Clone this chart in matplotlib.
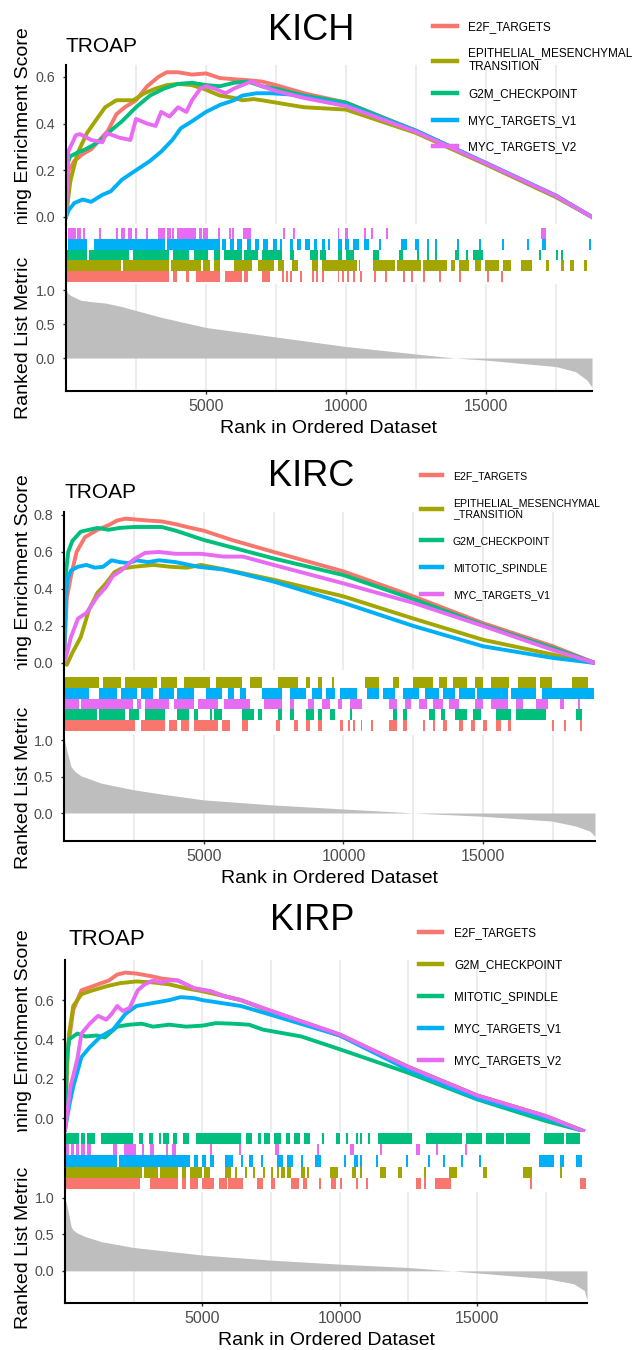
import matplotlib.pyplot as plt
from matplotlib.transforms import Bbox, TransformedBbox

plt.rcParams['font.family'] = ['Liberation Sans', 'DejaVu Sans']

# ggplot default hue palette for five groups
HUE = ["#F8766D", "#A3A500", "#00BF7D", "#00B0F6", "#E76BF3"]

# ---------------- KICH ----------------
kich_sets = ["E2F_TARGETS", "EPITHELIAL_MESENCHYMAL\nTRANSITION", "G2M_CHECKPOINT",
             "MYC_TARGETS_V1", "MYC_TARGETS_V2"]
kich_n = 18790
kich_rows = [0, 1, 2, 3, 4]

kich_e2f_es = [(0, 0), (100, 0.2), (300, 0.24), (600, 0.27), (900, 0.29), (1200, 0.33), (1500, 0.37),
               (1800, 0.44), (2100, 0.47), (2500, 0.5), (2900, 0.56), (3300, 0.6), (3600, 0.62),
               (4000, 0.62), (4500, 0.61), (5000, 0.615), (5500, 0.595), (6000, 0.59), (6600, 0.585),
               (7000, 0.58), (7500, 0.565), (8500, 0.53), (10000, 0.49), (12500, 0.37), (15000, 0.23),
               (17500, 0.09), (18790, 0)]
kich_emt_es = [(0, 0), (150, 0.15), (400, 0.27), (750, 0.36), (1100, 0.42), (1400, 0.47), (1800, 0.5),
               (2400, 0.5), (2800, 0.53), (3200, 0.55), (3600, 0.565), (4000, 0.57), (4500, 0.565),
               (5000, 0.545), (5500, 0.52), (6000, 0.51), (6300, 0.5), (6700, 0.505), (7000, 0.5),
               (7500, 0.49), (8500, 0.47), (10000, 0.46), (12500, 0.36), (15000, 0.225), (17500, 0.085),
               (18790, 0)]
kich_g2m_es = [(0, 0), (30, 0.22), (150, 0.26), (400, 0.275), (700, 0.29), (1000, 0.31), (1300, 0.335),
               (1600, 0.37), (2000, 0.41), (2500, 0.47), (3000, 0.52), (3500, 0.55), (4000, 0.57),
               (4500, 0.575), (5000, 0.565), (5500, 0.56), (6000, 0.575), (6500, 0.58), (7000, 0.56),
               (7500, 0.55), (8500, 0.52), (10000, 0.49), (12500, 0.368), (15000, 0.23), (17500, 0.09),
               (18790, 0)]
kich_mycv1_es = [(0, 0), (100, 0.03), (300, 0.06), (600, 0.075), (900, 0.065), (1100, 0.08), (1300, 0.095),
                 (1600, 0.11), (2000, 0.16), (2500, 0.2), (3000, 0.24), (3400, 0.28), (3800, 0.33),
                 (4100, 0.38), (4500, 0.41), (5000, 0.45), (5500, 0.48), (6000, 0.5), (6300, 0.52),
                 (6800, 0.53), (7300, 0.53), (8000, 0.525), (8500, 0.515), (10000, 0.48), (12500, 0.37),
                 (15000, 0.232), (17500, 0.092), (18790, 0)]
kich_mycv2_es = [(0, 0), (80, 0.28), (350, 0.35), (500, 0.355), (900, 0.33), (1300, 0.32), (1450, 0.36),
                 (1900, 0.34), (2300, 0.33), (2500, 0.42), (2900, 0.4), (3200, 0.39), (3400, 0.45),
                 (3700, 0.43), (4000, 0.47), (4300, 0.45), (4500, 0.5), (4800, 0.55), (5000, 0.56),
                 (5300, 0.55), (5700, 0.53), (6000, 0.55), (6400, 0.57), (6600, 0.58), (7000, 0.56),
                 (7500, 0.54), (8500, 0.51), (10000, 0.475), (12500, 0.365), (15000, 0.23), (17500, 0.09),
                 (18790, 0)]

kich_e2f_hits = [(30, 3690), (3840, 3980), (4270, 4410), (4630, 5490), (5680, 6280), (6350, 6500),
                 (7000, 7290), (7720, 7720), (7860, 7860), (8000, 8000), (8360, 8360), (8790, 8790),
                 (8940, 8940), (9150, 9150), (9700, 9760), (9850, 9900), (10050, 10100), (10250, 10300),
                 (10520, 10520), (11020, 11020), (11380, 11380), (12030, 12030), (12320, 12320),
                 (12750, 12750), (13320, 13320), (14040, 14040), (15050, 15050), (15550, 15550)]
kich_emt_hits = [(30, 1970), (2040, 3690), (3760, 4840), (4910, 5130), (5270, 5490), (5990, 6640),
                 (6850, 7430), (7570, 7790), (8080, 8290), (8790, 9010), (9150, 10380), (10450, 10450),
                 (10950, 11740), (11810, 12670), (12750, 13610), (13750, 13900), (14040, 14400),
                 (14610, 14830), (14970, 15480), (15620, 15910), (16270, 16630), (17130, 17270),
                 (17700, 17780), (17990, 18140), (18490, 18610)]
kich_g2m_hits = [(30, 750), (820, 2260), (2400, 3690), (3840, 4410), (4560, 5060), (5270, 5490),
                 (5630, 6280), (6350, 6850), (7000, 7720), (8000, 8150), (8720, 9010), (9080, 9300),
                 (9730, 9870), (10020, 10300), (10950, 11170), (11880, 12030), (12530, 12600),
                 (12890, 12890), (13180, 13180), (13900, 14050), (14300, 14350), (14550, 14900),
                 (16910, 16910), (17490, 17490), (17700, 17700)]
kich_mycv1_hits = [(70, 750), (990, 3550), (3620, 5490), (5560, 5700), (5850, 6000), (6100, 6300),
                   (6450, 6600), (6750, 6900), (7050, 7200), (7400, 7550), (7650, 7720), (8000, 8100),
                   (8250, 8400), (8550, 8700), (8850, 8950), (9150, 9250), (9350, 9440), (9730, 9850),
                   (9950, 10100), (10250, 10450), (10660, 10810), (11170, 11240), (11960, 12170),
                   (12460, 12600), (12890, 12890), (13180, 13250), (13970, 14040), (14760, 14830),
                   (15590, 15590), (16480, 16550), (16990, 17130), (18670, 18670)]
kich_mycv2_hits = [(70, 70), (130, 130), (220, 220), (290, 290), (390, 390), (460, 460), (600, 600),
                   (1180, 1180), (1780, 1780), (1970, 2110), (2230, 2230), (2290, 2290), (2470, 2470),
                   (2860, 2860), (3290, 3520), (3620, 3620), (3690, 3690), (3790, 3790), (3980, 4630),
                   (4740, 4740), (4800, 4800), (4910, 5060), (5420, 5420), (5820, 5820), (5920, 5920),
                   (6320, 6600), (7760, 7760), (8100, 8100), (9700, 9700), (9960, 9960), (10020, 10020),
                   (10630, 10630), (10890, 10890), (11420, 11420), (16980, 17130)]

kich_metric = [(0, 1.02), (60, 0.96), (170, 0.92), (530, 0.85), (900, 0.83), (1400, 0.81), (1970, 0.76),
               (2500, 0.70), (3400, 0.6), (5000, 0.45), (7500, 0.31), (10000, 0.17), (12500, 0.06),
               (13900, 0.0), (15000, -0.03), (16300, -0.08), (17500, -0.125), (18200, -0.2),
               (18600, -0.32), (18790, -0.43)]

# ---------------- KIRC ----------------
kirc_sets = ["E2F_TARGETS", "EPITHELIAL_MESENCHYMAL\n_TRANSITION", "G2M_CHECKPOINT",
             "MITOTIC_SPINDLE", "MYC_TARGETS_V1"]
kirc_n = 19000
kirc_rows = [0, 4, 1, 3, 2]

kirc_e2f_es = [(0, 0), (100, 0.35), (250, 0.47), (450, 0.6), (750, 0.68), (1200, 0.72), (1600, 0.745),
               (1900, 0.77), (2200, 0.78), (2600, 0.775), (3000, 0.77), (3500, 0.765), (4000, 0.75),
               (4400, 0.735), (5000, 0.715), (6000, 0.665), (7500, 0.6), (10000, 0.495), (12500, 0.36),
               (15000, 0.215), (17500, 0.09), (19000, 0)]
kirc_emt_es = [(0, 0), (100, -0.01), (300, 0.055), (600, 0.14), (900, 0.29), (1200, 0.38), (1500, 0.43),
               (1800, 0.49), (2050, 0.51), (2500, 0.52), (3200, 0.53), (3800, 0.52), (4400, 0.515),
               (4900, 0.53), (5600, 0.51), (6400, 0.485), (7500, 0.45), (10000, 0.36), (12500, 0.24),
               (15000, 0.125), (17500, 0.045), (19000, 0)]
kirc_g2m_es = [(0, 0), (20, 0.38), (80, 0.5), (150, 0.6), (300, 0.66), (600, 0.71), (900, 0.72),
               (1200, 0.73), (1600, 0.72), (2000, 0.73), (2500, 0.735), (3000, 0.735), (3500, 0.735),
               (4000, 0.715), (4500, 0.69), (5000, 0.665), (6000, 0.625), (7500, 0.565), (10000, 0.475),
               (12500, 0.345), (15000, 0.205), (17500, 0.08), (19000, 0)]
kirc_mitotic_es = [(0, 0), (60, 0.35), (120, 0.45), (250, 0.5), (500, 0.52), (800, 0.53), (1100, 0.515),
                   (1400, 0.52), (1700, 0.555), (2000, 0.545), (2300, 0.54), (2600, 0.555), (3000, 0.545),
                   (3400, 0.555), (4000, 0.545), (4800, 0.52), (5700, 0.505), (6300, 0.485), (7500, 0.44),
                   (10000, 0.325), (12500, 0.2), (15000, 0.09), (17500, 0.027), (19000, 0)]
kirc_mycv1_es = [(0, 0), (100, 0.05), (250, 0.14), (500, 0.24), (800, 0.27), (1200, 0.36), (1500, 0.41),
                 (1750, 0.47), (2050, 0.5), (2500, 0.56), (2900, 0.595), (3400, 0.6), (4000, 0.59),
                 (4900, 0.59), (5700, 0.575), (6400, 0.575), (7500, 0.53), (10000, 0.43), (12500, 0.325),
                 (15000, 0.2), (17500, 0.07), (19000, 0)]

kirc_e2f_hits = [(30, 2550), (2760, 3630), (3770, 4060), (4200, 4490), (4640, 5500), (5640, 5930),
                 (6360, 6580), (7590, 7730), (8240, 8380), (8670, 8810), (9100, 9240), (9890, 9990),
                 (10150, 10250), (10350, 10400), (10610, 10610), (10970, 10970), (11620, 11910),
                 (12120, 12270), (12840, 12840), (13200, 13200), (13560, 13710), (14140, 14280),
                 (14570, 14720), (15000, 15150), (15440, 15650), (15870, 16010), (17450, 17450),
                 (17880, 17880), (18460, 18530)]
kirc_emt_hits = [(30, 1250), (1400, 2040), (2190, 3340), (3480, 4060), (4280, 5210), (5430, 6360),
                 (6650, 7080), (7660, 8380), (8670, 8810), (9100, 9240), (9600, 9600), (10760, 11260),
                 (11760, 11980), (12480, 13200), (13420, 13710), (13920, 14430), (14720, 15000),
                 (15290, 15940), (16230, 16880), (17020, 17450), (18170, 18750)]
kirc_g2m_hits = [(30, 1180), (1250, 2190), (2330, 2690), (2910, 3630), (4060, 4490), (4640, 4780),
                 (5210, 5210), (5360, 5640), (6360, 6800), (6940, 7080), (7660, 7800), (8090, 8240),
                 (8670, 8960), (9100, 9240), (9530, 9680), (10250, 10250), (11760, 11910), (12120, 12270),
                 (13060, 13280), (13490, 13640), (14000, 14430), (14640, 14930), (15440, 16010),
                 (16160, 17240), (18320, 18530)]
kirc_mitotic_hits = [(30, 890), (1250, 1900), (2040, 2620), (2760, 3200), (3410, 3920), (4060, 4640),
                     (5070, 5640), (5860, 6080), (6290, 6510), (7080, 7800), (8090, 8670), (8880, 9240),
                     (9390, 9680), (9890, 10470), (10830, 11260), (11400, 11840), (12120, 12700),
                     (12920, 13420), (13560, 14000), (14140, 14720), (14790, 15870), (16010, 16880),
                     (17090, 18960)]
kirc_mycv1_hits = [(30, 530), (600, 2470), (2620, 2750), (2900, 3770), (3920, 4640), (4780, 5500),
                   (5720, 6650), (7160, 7800), (8090, 8240), (8740, 8960), (9240, 9530), (9820, 9960),
                   (10250, 10680), (11620, 11910), (12200, 12410), (12700, 12990), (13200, 13560),
                   (13780, 14140), (14720, 15000), (15290, 15870), (16160, 16440), (16880, 17310),
                   (17740, 17880), (18390, 18460)]

kirc_metric = [(0, 1.0), (30, 0.98), (100, 0.86), (175, 0.75), (245, 0.64), (390, 0.57), (605, 0.51),
               (1325, 0.41), (2475, 0.32), (3485, 0.26), (5000, 0.18), (7500, 0.11), (10000, 0.055),
               (12100, 0.01), (12500, 0.0), (15000, -0.045), (17450, -0.11), (18320, -0.18),
               (18820, -0.25), (19000, -0.32)]

# ---------------- KIRP ----------------
kirp_sets = ["E2F_TARGETS", "G2M_CHECKPOINT", "MITOTIC_SPINDLE", "MYC_TARGETS_V1", "MYC_TARGETS_V2"]
kirp_n = 19000
kirp_rows = [0, 1, 4, 2, 3]

kirp_e2f_es = [(0, -0.06), (100, 0.35), (300, 0.55), (600, 0.65), (1200, 0.68), (1600, 0.7), (1900, 0.73),
               (2200, 0.74), (2600, 0.735), (3200, 0.72), (3500, 0.71), (4100, 0.7), (4700, 0.66),
               (5300, 0.645), (5800, 0.62), (6400, 0.6), (7500, 0.545), (10000, 0.425), (12500, 0.26),
               (15000, 0.115), (17500, 0.01), (18850, -0.065)]
kirp_g2m_es = [(0, -0.06), (70, 0.26), (150, 0.43), (300, 0.57), (600, 0.63), (900, 0.645), (1500, 0.67),
               (2000, 0.686), (2600, 0.695), (3200, 0.69), (3800, 0.68), (4400, 0.66), (5000, 0.645),
               (5800, 0.62), (6400, 0.6), (7500, 0.54), (10000, 0.42), (12500, 0.26), (15000, 0.115),
               (17500, 0.01), (18850, -0.065)]
kirp_mitotic_es = [(0, -0.06), (60, 0.3), (150, 0.4), (450, 0.43), (750, 0.415), (1150, 0.42), (1450, 0.41),
                   (1900, 0.465), (2350, 0.475), (2800, 0.48), (3200, 0.465), (3800, 0.475), (4400, 0.465),
                   (5000, 0.47), (5500, 0.483), (6100, 0.48), (6700, 0.475), (7200, 0.45), (7600, 0.44),
                   (8600, 0.415), (10000, 0.35), (12500, 0.23), (15000, 0.095), (17500, -0.015),
                   (18850, -0.065)]
kirp_mycv1_es = [(0, -0.06), (150, 0.06), (300, 0.16), (600, 0.31), (900, 0.36), (1300, 0.415),
                 (1750, 0.45), (2200, 0.53), (2600, 0.57), (3200, 0.585), (3800, 0.6), (4200, 0.615),
                 (4700, 0.61), (5000, 0.6), (5700, 0.585), (6400, 0.57), (7500, 0.525), (10000, 0.42),
                 (12500, 0.245), (15000, 0.1), (17500, 0.0), (18850, -0.065)]
kirp_mycv2_es = [(0, -0.06), (200, 0.16), (450, 0.3), (600, 0.43), (900, 0.48), (1200, 0.52), (1500, 0.5),
                 (1700, 0.53), (1900, 0.57), (2100, 0.545), (2350, 0.56), (2650, 0.65), (2900, 0.68),
                 (3200, 0.7), (3500, 0.69), (3800, 0.7), (4100, 0.7), (4400, 0.68), (4700, 0.66),
                 (5300, 0.645), (5800, 0.62), (6400, 0.6), (7500, 0.545), (10000, 0.425), (12500, 0.26),
                 (15000, 0.115), (17500, 0.01), (18850, -0.065)]

kirp_e2f_hits = [(30, 2720), (3090, 4120), (4260, 4410), (4560, 4850), (5000, 5440), (5590, 5880),
                 (5950, 6470), (6980, 7200), (7500, 7640), (8230, 8530), (8670, 8820), (9260, 9260),
                 (9700, 9850), (10000, 10000), (10580, 10660), (10950, 11030), (12790, 12940),
                 (13080, 13080), (13450, 14040), (16910, 16980), (18740, 18960)]
kirp_g2m_hits = [(30, 2790), (2870, 3380), (3450, 4120), (4260, 4410), (4560, 5000), (5070, 5290),
                 (5810, 6030), (6170, 6250), (6540, 6620), (6840, 6910), (7200, 7280), (7500, 7500),
                 (7720, 7790), (7860, 8010), (8090, 8230), (8600, 8750), (8820, 8890), (9630, 9920),
                 (10440, 10580), (10730, 10800), (11470, 11690), (12130, 12270), (13080, 13080),
                 (13970, 14260), (15210, 15360), (16680, 16980), (18010, 18080)]
kirp_mitotic_hits = [(0, 510), (580, 730), (800, 1100), (1310, 2480), (2700, 2850), (3070, 3210),
                     (3430, 3500), (3580, 3800), (3940, 4090), (4310, 4530), (4750, 6420), (6570, 6790),
                     (7010, 7150), (7230, 7450), (7590, 7880), (8030, 8180), (8320, 8540), (8690, 8910),
                     (9340, 9340), (9860, 10000), (10220, 10290), (10590, 10590), (10730, 10730),
                     (11020, 11020), (11390, 12630), (13140, 14450), (14600, 15180), (15330, 15990),
                     (16060, 16940), (17450, 18180), (18250, 18760)]
kirp_mycv1_hits = [(30, 1910), (1980, 4560), (4700, 4850), (5000, 5150), (5290, 5440), (5810, 6100),
                   (6390, 6470), (6690, 6840), (7130, 7200), (7720, 7940), (8090, 8310), (8600, 8670),
                   (9110, 9330), (10140, 10220), (10510, 10660), (10730, 10730), (11320, 11390),
                   (12420, 12500), (13230, 13230), (13750, 13820), (14410, 14410), (15070, 15070),
                   (17270, 17790), (18010, 18150), (18600, 18820)]
kirp_mycv2_hits = [(30, 150), (220, 330), (400, 520), (600, 735), (810, 960), (1760, 1910), (2130, 2570),
                   (2790, 2870), (3090, 3230), (3680, 3750), (3900, 4040), (5290, 5290), (6320, 6320),
                   (7640, 7640), (7720, 7720), (9190, 9190), (10360, 10360), (10440, 10440),
                   (11470, 11470), (12790, 12790), (12860, 12860), (13520, 13520), (14550, 14550)]

kirp_metric = [(0, 1.0), (75, 0.885), (150, 0.75), (220, 0.61), (290, 0.56), (440, 0.52), (735, 0.47),
               (1320, 0.4), (2500, 0.32), (5000, 0.217), (7500, 0.147), (10000, 0.092), (12500, 0.046),
               (14100, 0.0), (15000, -0.028), (17500, -0.106), (18500, -0.175), (18900, -0.267),
               (19000, -0.405)]

# ---------------- layout (pixels in a 632 x 1350 canvas) ----------------
W, H = 632, 1350
MIN_TICK = 70   # narrowest rug tick, in ranks

panels = [
    dict(name="KICH", n=kich_n, sets=kich_sets, rows=kich_rows,
         curves=[kich_e2f_es, kich_emt_es, kich_g2m_es, kich_mycv1_es, kich_mycv2_es],
         hits=[kich_e2f_hits, kich_emt_hits, kich_g2m_hits, kich_mycv1_hits, kich_mycv2_hits],
         metric=kich_metric,
         x=(66, 592), es=(65, 224), rug=(224, 283), rk=(284, 391),
         es_lim=(-0.03, 0.651), es_ticks=[0, 0.2, 0.4, 0.6], rug_lim=(-0.1, 5.37), rk_lim=(-0.485, 1.09),
         title=(311, 30), sub=(66, 52, 15), leg=(433, 26.7, 8.5, 1.25)),
    dict(name="KIRC", n=kirc_n, sets=kirc_sets, rows=kirc_rows,
         curves=[kirc_e2f_es, kirc_emt_es, kirc_g2m_es, kirc_mitotic_es, kirc_mycv1_es],
         hits=[kirc_e2f_hits, kirc_emt_hits, kirc_g2m_hits, kirc_mitotic_hits, kirc_mycv1_hits],
         metric=kirc_metric,
         x=(64, 595), es=(512, 670), rug=(670, 733), rk=(735, 841),
         es_lim=(-0.038, 0.816), es_ticks=[0, 0.2, 0.4, 0.6, 0.8], rug_lim=(-0.2, 5.65), rk_lim=(-0.384, 1.07),
         title=(311, 476), sub=(64.5, 498, 15), leg=(421, 477, 7.6, 1.59)),
    dict(name="KIRP", n=kirp_n, sets=kirp_sets, rows=kirp_rows,
         curves=[kirp_e2f_es, kirp_g2m_es, kirp_mitotic_es, kirp_mycv1_es, kirp_mycv2_es],
         hits=[kirp_e2f_hits, kirp_g2m_hits, kirp_mitotic_hits, kirp_mycv1_hits, kirp_mycv2_hits],
         metric=kirp_metric,
         x=(65, 587), es=(960, 1132), rug=(1132, 1190), rk=(1192, 1303),
         es_lim=(-0.071, 0.804), es_ticks=[0, 0.2, 0.4, 0.6], rug_lim=(-0.05, 5.05), rk_lim=(-0.44, 1.08),
         title=(312, 920), sub=(68.5, 945, 16), leg=(419, 933, 8.4, 1.71)),
]

fig = plt.figure(figsize=(W / 100, H / 100), dpi=100)


def add_ax(xr, yr):
    left, right = xr
    top, bottom = yr
    return fig.add_axes([left / W, 1 - bottom / H, (right - left) / W, (bottom - top) / H])


def style(ax, n):
    ax.set_xlim(0, n)
    ax.set_facecolor("none")
    for s in ("top", "right", "bottom"):
        ax.spines[s].set_visible(False)
    ax.spines["left"].set_linewidth(1.5)
    ax.tick_params(axis="y", length=2.5, width=1, color="#333333", labelsize=10.3,
                   labelcolor="#4D4D4D", pad=5)
    ax.tick_params(axis="x", bottom=False, labelbottom=False)


for p in panels:
    n = p["n"]
    left, right = p["x"]
    ax_es = add_ax(p["x"], p["es"])
    ax_rug = add_ax(p["x"], p["rug"])
    ax_rk = add_ax(p["x"], p["rk"])
    for ax in (ax_es, ax_rug, ax_rk):
        style(ax, n)

    # vertical grid at every 2500 ranks
    for ax in (ax_es, ax_rk):
        for g in range(2500, n, 2500):
            ax.axvline(g, color="#EBEBEB", lw=1.3, zorder=0)

    # running enrichment score
    for label, color, curve in zip(p["sets"], HUE, p["curves"]):
        r, v = zip(*curve)
        ax_es.plot(r, v, color=color, lw=2.8, label=label)
    ax_es.set_ylim(p["es_lim"])
    ax_es.set_yticks(p["es_ticks"])
    ax_es.set_yticklabels([f"{t:.1f}" for t in p["es_ticks"]])
    ax_es.set_ylabel("Running Enrichment Score", fontsize=14)
    ax_es.yaxis.set_label_coords((32 - left) / (right - left), 0.5)
    lab = ax_es.yaxis.label
    lab.set_clip_box(TransformedBbox(Bbox([[0, 1 - p["es"][1] / H], [1, 1]]), fig.transFigure))
    lab.set_clip_on(True)

    # gene hits
    for color, row, hits in zip(HUE, p["rows"], p["hits"]):
        spans = [(s, max(e - s, MIN_TICK)) for s, e in hits]
        ax_rug.broken_barh(spans, (row, 1), facecolors=color, lw=0)
    ax_rug.set_ylim(p["rug_lim"])
    ax_rug.set_yticks([])

    # ranked list metric
    r, v = zip(*p["metric"])
    ax_rk.fill_between(r, 0, v, color="#BEBEBE", lw=0)
    ax_rk.set_ylim(p["rk_lim"])
    ax_rk.set_yticks([0, 0.5, 1.0])
    ax_rk.set_yticklabels(["0.0", "0.5", "1.0"])
    ax_rk.spines["bottom"].set_visible(True)
    ax_rk.spines["bottom"].set_linewidth(1.5)
    ax_rk.set_xticks([5000, 10000, 15000])
    ax_rk.tick_params(axis="x", bottom=True, labelbottom=True, length=2.5, width=1, color="#333333",
                      labelsize=11.5, labelcolor="#4D4D4D", pad=3.5)
    ax_rk.set_xlabel("Rank in Ordered Dataset", fontsize=14, labelpad=4)
    ax_rk.set_ylabel("Ranked List Metric", fontsize=14)
    ax_rk.yaxis.set_label_coords((32 - left) / (right - left), 0.5)

    # titles
    tx, ty = p["title"]
    fig.text(tx / W, 1 - ty / H, p["name"], fontsize=26, ha="center", va="center")
    sx, sy, sfs = p["sub"]
    fig.text(sx / W, 1 - sy / H, "TROAP", fontsize=sfs, ha="left", va="baseline")

    # legend
    lx, ly, lfs, lsp = p["leg"]
    leg = ax_es.legend(loc="upper left", bbox_to_anchor=(lx / W, 1 - (ly - 6) / H),
                       bbox_transform=fig.transFigure, frameon=False, fontsize=lfs,
                       handlelength=2.0, handletextpad=1.0, labelspacing=lsp,
                       borderpad=0, borderaxespad=0)
    for h in leg.get_lines():
        h.set_linewidth(3.2)

fig.savefig("out.png", dpi=100)
